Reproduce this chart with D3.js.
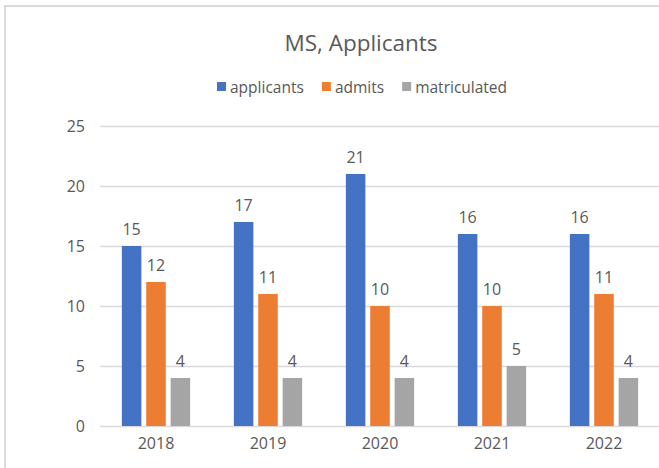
<!DOCTYPE html>
<html>
<head>
<meta charset="utf-8">
<script src="https://cdn.jsdelivr.net/npm/d3@7"></script>
<style>
  body { margin: 0; background: #fff; }
  svg { display: block; }
  svg text { font-family: "Open Sans", sans-serif; fill: #595959; }
</style>
</head>
<body>
<div id="chart"></div>
<script>
/* DATA */
const years = ["2018", "2019", "2020", "2021", "2022"];
const seriesNames = ["applicants", "admits", "matriculated"];
const applicants = [15, 17, 21, 16, 16];
const admits = [12, 11, 10, 10, 11];
const matriculated = [4, 4, 4, 5, 4];
const yTicks = [0, 5, 10, 15, 20, 25];
const colors = ["#4472C4", "#ED7D31", "#A5A5A5"];

const width = 659, height = 468;
const margin = { top: 126, bottom: 42, left: 100, right: -1 };

const svg = d3.select("#chart").append("svg")
  .attr("width", width)
  .attr("height", height);

// chart border (only top and left visible, rest cropped)
svg.append("path")
  .attr("d", `M5,${height} V6 H${width}`)
  .attr("fill", "none")
  .attr("stroke", "#d9d9d9")
  .attr("stroke-width", 2);

const xScale = d3.scaleBand()
  .domain(years)
  .range([margin.left, width - margin.right])
  .paddingInner(0.39)
  .paddingOuter(0.195);

const xSub = d3.scaleBand()
  .domain(seriesNames)
  .range([0, xScale.bandwidth()])
  .paddingInner(0.2);

const yScale = d3.scaleLinear()
  .domain([0, 25])
  .range([height - margin.bottom, margin.top]);

// gridlines + y labels
const yAxis = d3.axisLeft(yScale)
  .tickValues(yTicks)
  .tickSize(-(width - margin.left))
  .tickPadding(15);

svg.append("g")
  .attr("transform", `translate(${margin.left}, 0)`)
  .call(yAxis)
  .call(g => g.select(".domain").remove())
  .call(g => g.selectAll("line").attr("stroke", "#d9d9d9").attr("stroke-width", 1.5))
  .call(g => g.selectAll("text").attr("font-size", 16).attr("fill", "#595959"));

// x labels
svg.append("g")
  .attr("transform", `translate(0, ${height - margin.bottom})`)
  .call(d3.axisBottom(xScale).tickSize(0).tickPadding(12))
  .call(g => g.select(".domain").remove())
  .call(g => g.selectAll("text").attr("font-size", 16).attr("fill", "#595959"));

const rows = years.map((y, i) => ({
  year: y,
  values: [
    { key: "applicants", value: applicants[i] },
    { key: "admits", value: admits[i] },
    { key: "matriculated", value: matriculated[i] }
  ]
}));

const groups = svg.append("g").selectAll("g")
  .data(rows)
  .join("g")
  .attr("transform", d => "translate(" + xScale(d.year) + ",0)");

groups.selectAll("rect")
  .data(d => d.values)
  .join("rect")
  .attr("x", d => xSub(d.key))
  .attr("y", d => yScale(d.value))
  .attr("width", xSub.bandwidth())
  .attr("height", d => yScale(0) - yScale(d.value))
  .attr("fill", (d, i) => colors[i]);

groups.selectAll("text")
  .data(d => d.values)
  .join("text")
  .attr("x", d => xSub(d.key) + xSub.bandwidth() / 2)
  .attr("y", d => yScale(d.value) - 11)
  .attr("text-anchor", "middle")
  .attr("font-size", 16)
  .text(d => d.value);

// title
svg.append("text")
  .attr("x", 361)
  .attr("y", 51)
  .attr("text-anchor", "middle")
  .attr("font-size", 22.5)
  .text("MS, Applicants");

// legend
const legend = svg.append("g").attr("transform", "translate(0, 87)");
let lx = 217;
seriesNames.forEach((name, i) => {
  const item = legend.append("g").attr("transform", `translate(${lx}, 0)`);
  item.append("rect")
    .attr("x", 0).attr("y", -5)
    .attr("width", 9).attr("height", 9)
    .attr("fill", colors[i]);
  const t = item.append("text")
    .attr("x", 13).attr("y", 5.5)
    .attr("font-size", 15.5)
    .text(name);
  lx += 13 + t.node().getComputedTextLength() + 18;
});
</script>
</body>
</html>
